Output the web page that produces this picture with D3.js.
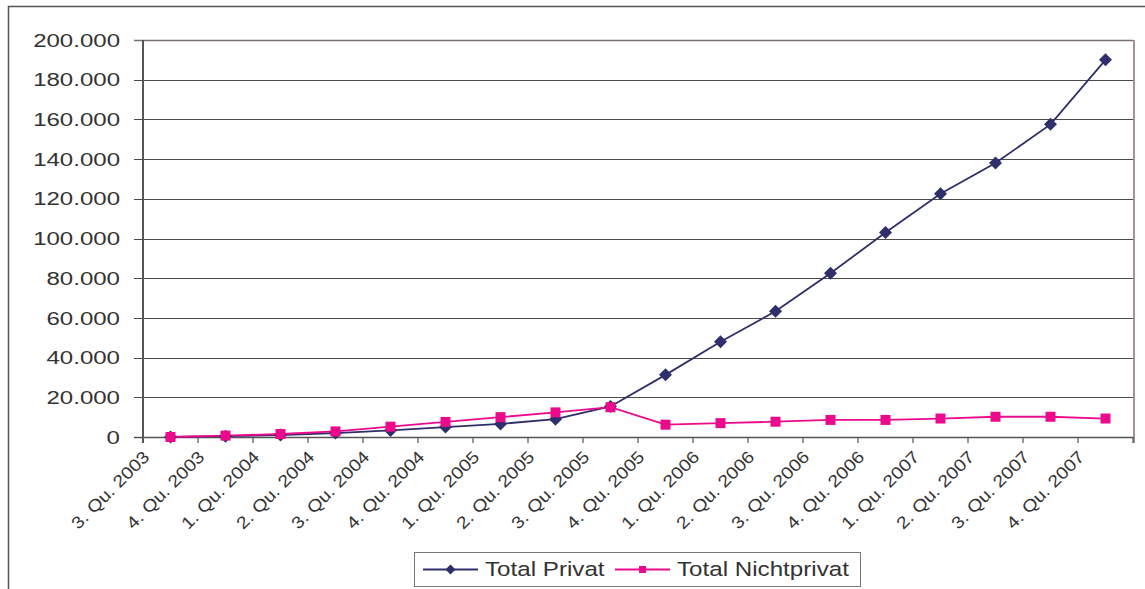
<!DOCTYPE html>
<html>
<head>
<meta charset="utf-8">
<script src="https://cdn.jsdelivr.net/npm/d3@7"></script>
<style>
  body { margin: 0; background: #fff; }
  text { font-family: "Liberation Sans", Arial, sans-serif; fill: #333; }
</style>
</head>
<body>
<svg id="chart" width="1145" height="589"></svg>
<script>

//  quarters on the x axis
var quarters = [
    '3. Qu. 2003', '4. Qu. 2003',
    '1. Qu. 2004', '2. Qu. 2004', '3. Qu. 2004', '4. Qu. 2004',
    '1. Qu. 2005', '2. Qu. 2005', '3. Qu. 2005', '4. Qu. 2005',
    '1. Qu. 2006', '2. Qu. 2006', '3. Qu. 2006', '4. Qu. 2006',
    '1. Qu. 2007', '2. Qu. 2007', '3. Qu. 2007', '4. Qu. 2007'
];

var total_privat = [0, 400, 1000, 2000, 3300, 5000, 6600, 9000, 15400, 31300,
    48000, 63300, 82500, 103000, 122500, 138000, 157500, 190000];

var total_nichtprivat = [0, 700, 1500, 2800, 5200, 7600, 10000, 12400, 15000, 6200,
    7000, 7700, 8600, 8600, 9300, 10200, 10200, 9300];

var y_ticks = [0, 20000, 40000, 60000, 80000, 100000, 120000, 140000, 160000, 180000, 200000];

var series_names = ['Total Privat', 'Total Nichtprivat'];

var colors = {
    privat : '#2e2f6b',
    nichtprivat : '#ec0a8c'
};

var plot = { left : 143, right : 1133, top : 40, bottom : 437 };

var svg = d3.select('#chart');

//  outer chart frame
svg.append('path')
    .attr('d', 'M8.5,589 V6.5 H1145')
    .attr('fill', 'none')
    .attr('stroke', '#555')
    .attr('stroke-width', 1.5);

var x = d3.scaleBand()
    .domain(quarters)
    .range([plot.left, plot.right])
    .paddingInner(0)
    .paddingOuter(0);

var y = d3.scaleLinear()
    .domain([0, 200000])
    .range([plot.bottom, plot.top]);

var fmt = function(v) { return d3.format(',')(v).replace(/,/g, '.'); };

//  gridlines
svg.append('g')
    .selectAll('line')
    .data(y_ticks.filter(function(d) { return d > 0; }))
    .enter().append('line')
    .attr('x1', plot.left - 9)
    .attr('x2', plot.right)
    .attr('y1', function(d) { return Math.round(y(d)) + 0.5; })
    .attr('y2', function(d) { return Math.round(y(d)) + 0.5; })
    .attr('stroke', function(d) { return d == 200000 ? '#7a7070' : '#4a4a4a'; })
    .attr('stroke-width', function(d) { return d == 200000 ? 1.5 : 1; });

//  right border of plot area
svg.append('line')
    .attr('x1', plot.right + 1).attr('x2', plot.right + 1)
    .attr('y1', plot.top).attr('y2', plot.bottom + 6)
    .attr('stroke', '#a09494')
    .attr('stroke-width', 2);

//  y axis labels
svg.append('g')
    .selectAll('text')
    .data(y_ticks)
    .enter().append('text')
    .attr('transform', function(d) { return 'translate(120,' + y(d) + ') scale(1.3,1)'; })
    .attr('dy', '0.36em')
    .attr('text-anchor', 'end')
    .style('font-size', '18.5px')
    .text(fmt);

//  x axis line and ticks
svg.append('line')
    .attr('x1', plot.left - 9).attr('x2', plot.right + 1)
    .attr('y1', plot.bottom + 0.5).attr('y2', plot.bottom + 0.5)
    .attr('stroke', '#555')
    .attr('stroke-width', 1.5);

var boundaries = quarters.map(function(q) { return x(q); }).concat([plot.right]);

svg.append('g')
    .selectAll('line')
    .data(boundaries)
    .enter().append('line')
    .attr('x1', function(d) { return d; })
    .attr('x2', function(d) { return d; })
    .attr('y1', plot.bottom)
    .attr('y2', plot.bottom + 6)
    .attr('stroke', '#555')
    .attr('stroke-width', 1.2);

//  y axis line
svg.append('line')
    .attr('x1', plot.left).attr('x2', plot.left)
    .attr('y1', plot.top).attr('y2', plot.bottom + 6)
    .attr('stroke', '#555')
    .attr('stroke-width', 2);

//  x axis labels, rotated
svg.append('g')
    .selectAll('text')
    .data(quarters)
    .enter().append('text')
    .attr('transform', function(d) {
        var cx = x(d) + x.bandwidth() / 2;
        return 'translate(' + (cx - 20) + ',458) rotate(-45) scale(1.15,1)';
    })
    .attr('text-anchor', 'end')
    .style('font-size', '17px')
    .text(function(d) { return d; });

//  series
var cx = function(d, i) { return x(quarters[i]) + x.bandwidth() / 2; };

var line = d3.line()
    .x(function(d, i) { return cx(d, i); })
    .y(function(d) { return y(d); });

function diamond(sel, s) {
    return sel.attr('d', 'M0,' + (-s) + 'L' + s + ',0L0,' + s + 'L' + (-s) + ',0Z');
}

svg.append('path')
    .datum(total_privat)
    .attr('d', line)
    .attr('fill', 'none')
    .attr('stroke', colors.privat)
    .attr('stroke-width', 1.8);

svg.append('path')
    .datum(total_nichtprivat)
    .attr('d', line)
    .attr('fill', 'none')
    .attr('stroke', colors.nichtprivat)
    .attr('stroke-width', 1.8);

svg.append('g')
    .selectAll('path')
    .data(total_privat)
    .enter().append('path')
    .attr('transform', function(d, i) { return 'translate(' + cx(d, i) + ',' + y(d) + ')'; })
    .call(diamond, 6.5)
    .attr('fill', colors.privat);

svg.append('g')
    .selectAll('rect')
    .data(total_nichtprivat)
    .enter().append('rect')
    .attr('x', function(d, i) { return cx(d, i) - 5; })
    .attr('y', function(d) { return y(d) - 5; })
    .attr('width', 10)
    .attr('height', 10)
    .attr('fill', colors.nichtprivat);

//  legend
var legend = svg.append('g');

legend.append('rect')
    .attr('x', 414.5).attr('y', 552.5)
    .attr('width', 446).attr('height', 34)
    .attr('fill', '#fff')
    .attr('stroke', '#777')
    .attr('stroke-width', 1);

var items = [
    { name : series_names[0], color : colors.privat, x0 : 423, tx : 485, marker : 'diamond' },
    { name : series_names[1], color : colors.nichtprivat, x0 : 615, tx : 677, marker : 'square' }
];

items.forEach(function(it) {
    legend.append('line')
        .attr('x1', it.x0).attr('x2', it.x0 + 55)
        .attr('y1', 569.5).attr('y2', 569.5)
        .attr('stroke', it.color)
        .attr('stroke-width', 1.8);

    if (it.marker == 'diamond') {
        legend.append('path')
            .attr('transform', 'translate(' + (it.x0 + 27.5) + ',569.5)')
            .call(diamond, 5)
            .attr('fill', it.color);
    } else {
        legend.append('rect')
            .attr('x', it.x0 + 24).attr('y', 566)
            .attr('width', 7).attr('height', 7)
            .attr('fill', it.color);
    }

    legend.append('text')
        .attr('transform', 'translate(' + it.tx + ',576) scale(1.24,1)')
        .style('font-size', '19.5px')
        .text(it.name);
});

</script>
</body>
</html>
